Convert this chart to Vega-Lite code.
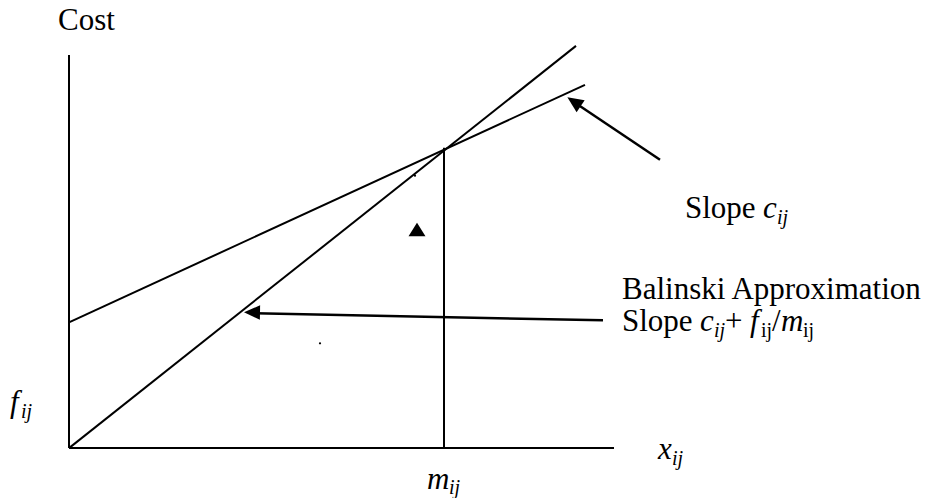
{
  "$schema": "https://vega.github.io/schema/vega-lite/v6.json",
  "width": 932,
  "height": 498,
  "padding": 0,
  "autosize": {"type": "fit", "contains": "padding"},
  "background": "white",
  "config": {"view": {"stroke": null}},
  "datasets": {
    "lines": [
      {"name": "cost axis", "x": 0, "y": 0, "x2": 0, "y2": 394},
      {"name": "flow axis", "x": 0, "y": 0, "x2": 545, "y2": 0},
      {"name": "balinski", "x": 0, "y": 0, "x2": 507, "y2": 403},
      {"name": "fixed plus linear", "x": 0, "y": 126, "x2": 516, "y2": 364},
      {"name": "capacity", "x": 375, "y": 0, "x2": 375, "y2": 301}
    ],
    "shafts": [
      {"name": "slope c arrow", "x": 591, "y": 289, "x2": 509, "y2": 344},
      {"name": "balinski arrow", "x": 534, "y": 128, "x2": 186, "y2": 135}
    ],
    "heads": [
      {"name": "slope c arrow", "x": 505, "y": 347, "direction": -56},
      {"name": "balinski arrow", "x": 183, "y": 136, "direction": -89}
    ],
    "marker": [{"x": 348, "y": 219}],
    "dots": [{"x": 251, "y": 105}, {"x": 346, "y": 273}],
    "regular": [
      {"x": -11, "y": 419, "label": "Cost"},
      {"x": 616, "y": 231, "label": "Slope"},
      {"x": 553, "y": 149, "label": "Balinski Approximation"},
      {"x": 553, "y": 117, "label": "Slope"},
      {"x": 656, "y": 117, "label": "+"},
      {"x": 703, "y": 117, "label": "/"}
    ],
    "italic": [
      {"x": 694, "y": 231, "label": "c"},
      {"x": 631, "y": 117, "label": "c"},
      {"x": 681, "y": 117, "label": "f"},
      {"x": 712, "y": 117, "label": "m"},
      {"x": 589, "y": -11, "label": "x"},
      {"x": 358, "y": -41, "label": "m"},
      {"x": -59, "y": 36, "label": "f"}
    ],
    "subItalic": [
      {"x": 708, "y": 225, "label": "ij"},
      {"x": 645, "y": 111, "label": "ij"},
      {"x": 603, "y": -17, "label": "ij"},
      {"x": 380, "y": -46, "label": "ij"},
      {"x": -48, "y": 30, "label": "ij"}
    ],
    "subRegular": [
      {"x": 692, "y": 111, "label": "ij"},
      {"x": 734, "y": 111, "label": "ij"}
    ]
  },
  "encoding": {
    "x": {"field": "x", "type": "quantitative", "scale": {"domain": [-69, 863], "nice": false, "zero": false}, "axis": null},
    "y": {"field": "y", "type": "quantitative", "scale": {"domain": [-49, 449], "nice": false, "zero": false}, "axis": null}
  },
  "layer": [
    {
      "data": {"name": "lines"},
      "mark": {"type": "rule", "color": "black", "strokeWidth": 2},
      "encoding": {"x2": {"field": "x2"}, "y2": {"field": "y2"}}
    },
    {
      "data": {"name": "shafts"},
      "mark": {"type": "rule", "color": "black", "strokeWidth": 2.5},
      "encoding": {"x2": {"field": "x2"}, "y2": {"field": "y2"}}
    },
    {
      "data": {"name": "heads"},
      "mark": {"type": "point", "shape": "M0,-1L0.9,1L-0.9,1Z", "filled": true, "color": "black", "opacity": 1, "size": 256},
      "encoding": {"angle": {"field": "direction", "type": "quantitative", "scale": null}}
    },
    {
      "data": {"name": "marker"},
      "mark": {"type": "point", "shape": "M0,-0.8L1,0.8L-1,0.8Z", "filled": true, "color": "black", "opacity": 1, "size": 289}
    },
    {
      "data": {"name": "dots"},
      "mark": {"type": "point", "shape": "circle", "filled": true, "color": "black", "opacity": 1, "size": 5}
    },
    {
      "data": {"name": "regular"},
      "mark": {"type": "text", "font": "Times New Roman, Liberation Serif, DejaVu Serif, serif", "color": "black", "fontSize": 31, "align": "left", "baseline": "alphabetic"},
      "encoding": {"text": {"field": "label"}}
    },
    {
      "data": {"name": "italic"},
      "mark": {"type": "text", "font": "Times New Roman, Liberation Serif, DejaVu Serif, serif", "color": "black", "fontSize": 31, "fontStyle": "italic", "align": "left", "baseline": "alphabetic"},
      "encoding": {"text": {"field": "label"}}
    },
    {
      "data": {"name": "subItalic"},
      "mark": {"type": "text", "font": "Times New Roman, Liberation Serif, DejaVu Serif, serif", "color": "black", "fontSize": 20, "fontStyle": "italic", "align": "left", "baseline": "alphabetic"},
      "encoding": {"text": {"field": "label"}}
    },
    {
      "data": {"name": "subRegular"},
      "mark": {"type": "text", "font": "Times New Roman, Liberation Serif, DejaVu Serif, serif", "color": "black", "fontSize": 20, "align": "left", "baseline": "alphabetic"},
      "encoding": {"text": {"field": "label"}}
    }
  ]
}
